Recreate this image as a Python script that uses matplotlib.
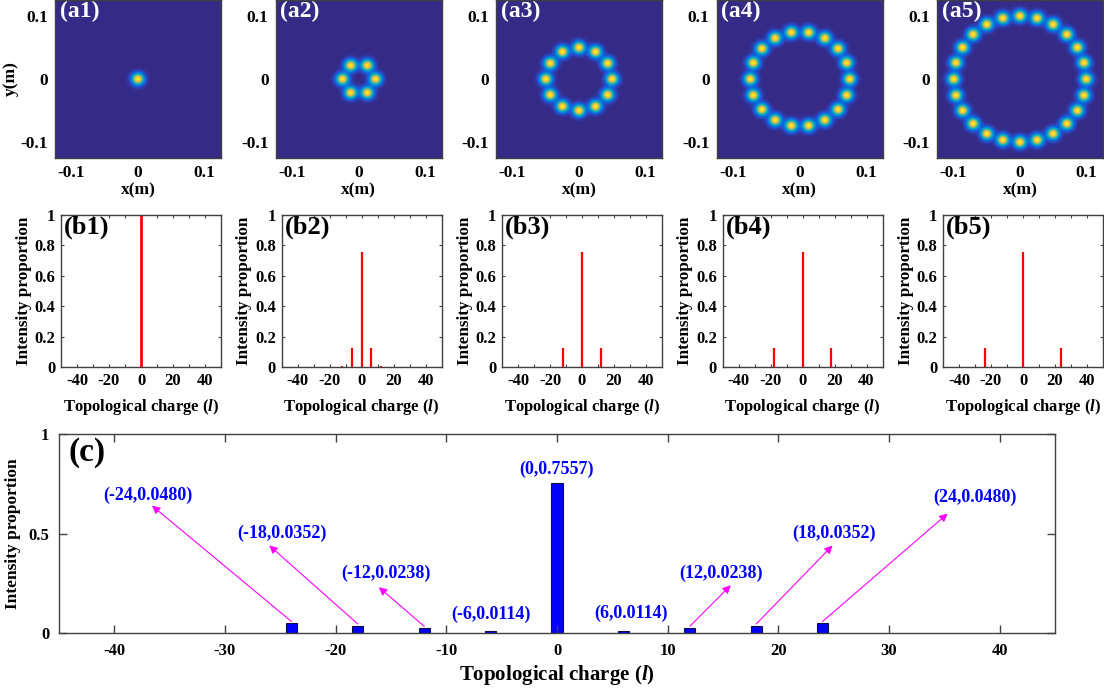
import numpy as np
import matplotlib
matplotlib.use('Agg')
import matplotlib.pyplot as plt
from matplotlib.colors import LinearSegmentedColormap

plt.rcParams['font.family'] = 'Liberation Serif'
plt.rcParams['font.weight'] = 'bold'
plt.rcParams['axes.labelweight'] = 'bold'
plt.rcParams['axes.unicode_minus'] = False
plt.rcParams['mathtext.fontset'] = 'custom'
plt.rcParams['mathtext.it'] = 'Liberation Serif:italic:bold'
plt.rcParams['mathtext.rm'] = 'Liberation Serif:bold'

# ring patterns: number of petals and ring radius (m)
spot_counts = [1, 6, 12, 18, 24]
ring_radius = [0.0, 0.025, 0.05, 0.075, 0.1]
spot_width = 0.0085
panel_a = ['(a1)', '(a2)', '(a3)', '(a4)', '(a5)']

# OAM spectra for the small panels
panel_b = ['(b1)', '(b2)', '(b3)', '(b4)', '(b5)']
b_charges = [[0], [-12, -6, 0, 6, 12], [-12, 0, 12], [-18, 0, 18], [-24, 0, 24]]
b_values = [[1.0], [0.004, 0.1222, 0.7557, 0.1222, 0.004],
            [0.1222, 0.7557, 0.1222], [0.1222, 0.7557, 0.1222], [0.1222, 0.7557, 0.1222]]

# combined spectrum (c)
c_charges = [-24, -18, -12, -6, 0, 6, 12, 18, 24]
c_values = [0.0480, 0.0352, 0.0238, 0.0114, 0.7557, 0.0114, 0.0238, 0.0352, 0.0480]
# label centre (x, y) and arrow head (None = no arrow) for each bar
c_label_pos = [(-37.0, 0.69), (-24.9, 0.50), (-15.5, 0.30), (-6.0, 0.095), (0.0, 0.82),
               (6.7, 0.10), (14.8, 0.30), (25.0, 0.50), (37.8, 0.68)]
c_arrow_head = [(-36.6, 0.64), (-26.0, 0.44), (-16.1, 0.23), None, None,
                None, (15.7, 0.24), (24.9, 0.44), (35.3, 0.60)]

parula = LinearSegmentedColormap.from_list('parula', [
    (0.2081, 0.1663, 0.5292), (0.1707, 0.2919, 0.7792), (0.0059, 0.4086, 0.8828),
    (0.0779, 0.5040, 0.8384), (0.0266, 0.6137, 0.8135), (0.0384, 0.6743, 0.7436),
    (0.1801, 0.7177, 0.6424), (0.3952, 0.7459, 0.5244), (0.6473, 0.7456, 0.4188),
    (0.8506, 0.7299, 0.3360), (0.9938, 0.7455, 0.2403), (0.9788, 0.8271, 0.1633),
    (0.9763, 0.9831, 0.0538)])

W, H = 1104, 689
fig = plt.figure(figsize=(W / 100, H / 100), dpi=100)


def px_axes(left, top, width, height):
    return fig.add_axes([left / W, 1 - (top + height) / H, width / W, height / H])


def tidy(ax):
    for s in ax.spines.values():
        s.set_color('#404040')
        s.set_linewidth(1.0)
    for lab in ax.get_xticklabels() + ax.get_yticklabels():
        lab.set_fontweight('bold')


grid = np.linspace(-0.125, 0.125, 501)
X, Y = np.meshgrid(grid, grid)

for i in range(5):
    ax = px_axes(55 + 220.5 * i, 0, 166, 158)
    n = spot_counts[i]
    field = np.zeros_like(X)
    for k in range(n):
        ang = 2 * np.pi * k / n
        cx, cy = ring_radius[i] * np.cos(ang), ring_radius[i] * np.sin(ang)
        field += np.exp(-((X - cx) ** 2 + (Y - cy) ** 2) / spot_width ** 2)
    ax.imshow(field / field.max(), extent=[-0.125, 0.125, -0.125, 0.125], origin='lower',
              cmap=parula, vmin=0, vmax=1, aspect='auto', interpolation='bilinear')
    ax.set_xticks([-0.1, 0, 0.1])
    ax.set_yticks([-0.1, 0, 0.1])
    ax.set_xticklabels(['-0.1', '0', '0.1'])
    ax.set_yticklabels(['-0.1', '0', '0.1'])
    ax.tick_params(labelsize=12.5, length=0, pad=5)
    ax.set_xlabel('x(m)', fontsize=12.5, labelpad=1)
    if i == 0:
        ax.set_ylabel('y(m)', fontsize=12.5, labelpad=1)
    ax.text(0.03, 0.995, panel_a[i], transform=ax.transAxes, color='white',
            fontsize=17, fontweight='bold', va='top', ha='left')
    tidy(ax)

for i in range(5):
    ax = px_axes(61 + 220.5 * i, 215, 160, 152)
    ax.vlines(b_charges[i], 0, b_values[i], color='red', lw=2.0 if i == 0 else 1.6)
    ax.set_xlim(-50, 50)
    ax.set_ylim(0, 1)
    ax.set_xticks([-40, -20, 0, 20, 40])
    ax.set_xticks([-30, -10, 10, 30], minor=True)
    ax.set_yticks([0, 0.2, 0.4, 0.6, 0.8, 1])
    ax.set_yticklabels(['0', '0.2', '0.4', '0.6', '0.8', '1'])
    ax.tick_params(which='both', direction='in', top=True, right=True, length=2.5,
                   width=0.8, color='#404040', labelsize=12, pad=4)
    ax.set_xlabel(r'Topological charge ($l$)', fontsize=12, labelpad=6)
    ax.set_ylabel('Intensity proportion', fontsize=12.3, labelpad=2)
    ax.text(0.02, 0.995, panel_b[i], transform=ax.transAxes, color='black',
            fontsize=19, fontweight='bold', va='top', ha='left')
    tidy(ax)

ax = px_axes(59, 434, 996, 199)
ax.bar(c_charges, c_values, width=1.0, color='blue', edgecolor='#101040', linewidth=0.8)
ax.set_xlim(-45, 45)
ax.set_ylim(0, 1)
ax.set_xticks([-40, -30, -20, -10, 0, 10, 20, 30, 40])
ax.set_yticks([0, 0.5, 1])
ax.set_yticklabels(['0', '0.5', '1'])
ax.tick_params(direction='in', top=True, right=True, length=6, width=1.0,
               color='#404040', labelsize=12, pad=7)
ax.set_xlabel(r'Topological charge ($l$)', fontsize=15, labelpad=3)
ax.set_ylabel('Intensity proportion', fontsize=12.5, labelpad=5)
ax.text(0.01, 0.985, '(c)', transform=ax.transAxes, fontsize=24, fontweight='bold',
        va='top', ha='left')
for q, v, lp, hd in zip(c_charges, c_values, c_label_pos, c_arrow_head):
    ax.text(lp[0], lp[1], f'({q},{v:.4f})', color='blue', fontsize=13,
            fontweight='bold', ha='center', va='center')
    if hd is not None:
        ax.annotate('', xy=hd, xytext=(q, v + 0.01),
                    arrowprops=dict(arrowstyle='-|>', color='#ff00ff', lw=0.8,
                                    mutation_scale=12, shrinkA=0, shrinkB=0))
tidy(ax)

fig.savefig('out.png', dpi=100)
